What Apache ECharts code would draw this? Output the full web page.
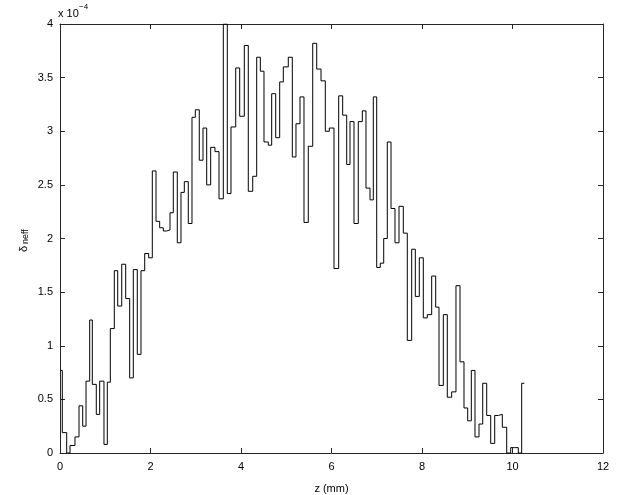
<!DOCTYPE html>
<html>
<head>
<meta charset="utf-8">
<script src="https://cdn.jsdelivr.net/npm/echarts@6/dist/echarts.min.js"></script>
<style>
html,body{margin:0;padding:0;background:#fff;}
#chart{width:619px;height:495px;}
</style>
</head>
<body>
<div id="chart"></div>
<script>
// left edge of every step, z in mm
var zEdges = [
    0, 0.051, 0.148, 0.221, 0.331, 0.420, 0.502, 0.575, 0.656, 0.714,
    0.802, 0.877, 0.972, 1.045, 1.112, 1.200, 1.275, 1.364, 1.452, 1.540,
    1.620, 1.708, 1.790, 1.872, 1.960, 2.040, 2.122, 2.203, 2.283, 2.358,
    2.431, 2.504, 2.592, 2.674, 2.747, 2.835, 2.917, 2.990, 3.078, 3.160,
    3.242, 3.330, 3.425, 3.514, 3.609, 3.697, 3.779, 3.883, 3.971, 4.073,
    4.161, 4.259, 4.347, 4.427, 4.508, 4.603, 4.678, 4.767, 4.855, 4.935,
    5.045, 5.134, 5.215, 5.304, 5.392, 5.487, 5.585, 5.673, 5.768, 5.863,
    5.951, 6.055, 6.159, 6.247, 6.336, 6.409, 6.497, 6.592, 6.681, 6.762,
    6.851, 6.924, 6.999, 7.078, 7.154, 7.233, 7.315, 7.403, 7.492, 7.587,
    7.675, 7.772, 7.852, 7.940, 8.029, 8.117, 8.214, 8.303, 8.376, 8.471,
    8.559, 8.656, 8.751, 8.840, 8.928, 9.010, 9.090, 9.171, 9.260, 9.342,
    9.430, 9.518, 9.607, 9.686, 9.775, 9.872, 9.960, 10.040, 10.128, 10.203,
    10.262
];
// delta n_eff on each step, in units of 1e-4
var dneff = [
    0.77, 0.19, 0, 0.07, 0.15, 0.44, 0.25, 0.67, 1.24, 0.64,
    0.36, 0.67, 0.08, 0.66, 1.16, 1.70, 1.37, 1.76, 1.44, 0.70,
    1.71, 0.92, 1.70, 1.86, 1.82, 2.63, 2.16, 2.10, 2.07, 2.08,
    2.24, 2.62, 1.96, 2.43, 2.53, 2.14, 3.13, 3.20, 2.73, 3.03,
    2.50, 2.85, 2.81, 2.37, 4.00, 2.42, 3.04, 3.59, 3.14, 3.80,
    2.44, 2.58, 3.69, 3.56, 2.90, 2.87, 3.35, 2.94, 3.46, 3.60,
    3.69, 2.76, 3.07, 3.32, 2.15, 2.86, 3.82, 3.58, 3.47, 3.00,
    3.03, 1.72, 3.33, 3.15, 2.69, 3.09, 2.14, 3.09, 3.19, 2.47,
    2.36, 3.32, 1.73, 1.77, 2.00, 2.90, 2.28, 1.96, 2.30, 2.05,
    1.05, 1.90, 1.46, 1.82, 1.26, 1.29, 1.65, 1.36, 0.63, 1.29,
    0.52, 0.57, 1.56, 0.85, 0.42, 0.30, 0.77, 0.15, 0.27, 0.65,
    0.35, 0.09, 0.35, 0.36, 0.24, 0, 0.05, 0.05, 0, 0.65,
    0.65
];
var xTicks = [0, 2, 4, 6, 8, 10, 12];
var yTicks = [0, 0.5, 1, 1.5, 2, 2.5, 3, 3.5, 4];

function makeChart(chartid) {
    var container = echarts.init(document.getElementById(chartid));
    var font = 'Liberation Sans, Arial, Helvetica, sans-serif';
    var points = [];
    for (var i = 0; i < zEdges.length; i++) {
        points.push([zEdges[i], dneff[i]]);
    }
    var lineColor = '#262626';
    function xAxisOf(pos, show) {
        return {
            type: 'value',
            position: pos,
            min: xTicks[0],
            max: xTicks[xTicks.length - 1],
            interval: xTicks[1] - xTicks[0],
            axisLine: {show: true, onZero: false, lineStyle: {color: lineColor, width: 1}},
            axisTick: {show: true, inside: true, length: 5, lineStyle: {color: lineColor}},
            axisLabel: {show: show, color: '#000', fontSize: 11, fontFamily: font, margin: 8},
            splitLine: {show: false},
            name: show ? 'z (mm)' : '',
            nameLocation: 'middle',
            nameGap: 30,
            nameTextStyle: {color: '#000', fontSize: 11, fontFamily: font}
        };
    }
    function yAxisOf(pos, show) {
        return {
            type: 'value',
            position: pos,
            min: yTicks[0],
            max: yTicks[yTicks.length - 1],
            interval: yTicks[1] - yTicks[0],
            axisLine: {show: true, onZero: false, lineStyle: {color: lineColor, width: 1}},
            axisTick: {show: true, inside: true, length: 5, lineStyle: {color: lineColor}},
            axisLabel: {show: show, color: '#000', fontSize: 11, fontFamily: font, margin: 7},
            splitLine: {show: false}
        };
    }
    var option = {
        animation: false,
        backgroundColor: '#fff',
        // fixed plot box, labels must not push it around
        grid: {left: 60, right: 16, top: 24, bottom: 42, containLabel: false, outerBoundsMode: 'none'},
        xAxis: [xAxisOf('bottom', true), xAxisOf('top', false)],
        yAxis: [yAxisOf('left', true), yAxisOf('right', false)],
        graphic: [
            // scale factor above the y axis
            {type: 'text', left: 58, top: 8,
             style: {text: 'x 10', fill: '#000', fontSize: 11, fontFamily: font}},
            {type: 'text', left: 79, top: 3,
             style: {text: '\u22124', fill: '#000', fontSize: 8, fontFamily: font}},
            // y label: delta with subscript neff
            {type: 'text', x: 18, y: 252, rotation: Math.PI / 2,
             style: {text: '\u03b4', fill: '#000', fontSize: 11, fontFamily: font}},
            {type: 'text', x: 21, y: 244, rotation: Math.PI / 2,
             style: {text: 'neff', fill: '#000', fontSize: 9, fontFamily: font}}
        ],
        series: [
            {
                type: 'line',
                step: 'end',
                symbol: 'none',
                clip: true,
                data: points,
                lineStyle: {color: '#000', width: 1}
            }
        ]
    };
    container.setOption(option);
}
makeChart('chart');
</script>
</body>
</html>
